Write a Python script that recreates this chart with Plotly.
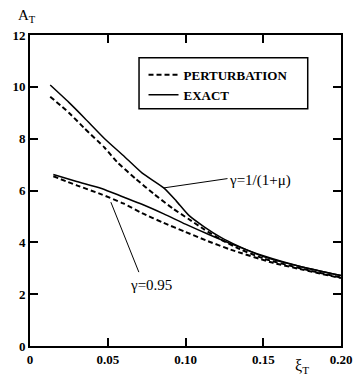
import plotly.graph_objects as go

# Data
xi_up_exact = [0.013, 0.025, 0.035, 0.048, 0.060, 0.072, 0.086, 0.094, 0.102, 0.112, 0.123, 0.133, 0.150, 0.175, 0.200]
A_up_exact = [10.07, 9.40, 8.80, 8.00, 7.35, 6.68, 6.10, 5.60, 5.05, 4.60, 4.18, 3.88, 3.45, 3.05, 2.72]

xi_up_pert = [0.013, 0.025, 0.035, 0.048, 0.056, 0.068, 0.080, 0.092, 0.102, 0.112, 0.123, 0.135, 0.150, 0.175, 0.200]
A_up_pert = [9.62, 9.00, 8.40, 7.65, 7.10, 6.45, 5.85, 5.30, 4.90, 4.50, 4.10, 3.74, 3.38, 2.98, 2.64]

xi_lo_exact = [0.015, 0.030, 0.046, 0.060, 0.072, 0.086, 0.100, 0.115, 0.129, 0.150, 0.175, 0.200]
A_lo_exact = [6.62, 6.35, 6.08, 5.75, 5.47, 5.10, 4.70, 4.30, 3.95, 3.48, 3.05, 2.72]

xi_lo_pert = [0.015, 0.030, 0.046, 0.060, 0.072, 0.086, 0.100, 0.113, 0.129, 0.155, 0.175, 0.200]
A_lo_pert = [6.55, 6.20, 5.85, 5.50, 5.13, 4.75, 4.40, 4.08, 3.72, 3.23, 2.95, 2.62]

x_tickvals = [0, 0.05, 0.10, 0.15, 0.20]
x_ticktext = ["0", "0.05", "0.10", "0.15", "0.20"]
y_tickvals = [0, 2, 4, 6, 8, 10, 12]

FONT = "Liberation Serif"

fig = go.Figure()
dash = "5px,3px"
fig.add_trace(go.Scatter(x=xi_up_pert, y=A_up_pert, mode="lines", name="PERTURBATION",
                         line=dict(color="black", width=2, dash=dash, shape="spline", smoothing=0.6)))
fig.add_trace(go.Scatter(x=xi_up_exact, y=A_up_exact, mode="lines", name="EXACT",
                         line=dict(color="black", width=1.5, shape="spline", smoothing=0.6)))
fig.add_trace(go.Scatter(x=xi_lo_pert, y=A_lo_pert, mode="lines", showlegend=False,
                         line=dict(color="black", width=2, dash=dash, shape="spline", smoothing=0.6)))
fig.add_trace(go.Scatter(x=xi_lo_exact, y=A_lo_exact, mode="lines", showlegend=False,
                         line=dict(color="black", width=1.5, shape="spline", smoothing=0.6)))

# leader lines
fig.add_shape(type="line", x0=0.086, y0=6.1, x1=0.127, y1=6.46, line=dict(color="black", width=1))
fig.add_shape(type="line", x0=0.052, y0=5.55, x1=0.070, y1=2.85, line=dict(color="black", width=1))
# legend box
fig.add_shape(type="rect", xref="paper", yref="paper", x0=0.3506, x1=0.893, y0=0.763, y1=0.927,
              line=dict(color="black", width=1.5))

fig.add_annotation(x=0.1265, y=6.4, text="γ=1/(1+μ)", showarrow=False, xanchor="left",
                   font=dict(family=FONT, size=15, color="black"))
fig.add_annotation(x=0.0775, y=2.36, text="γ=0.95", showarrow=False,
                   font=dict(family=FONT, size=15, color="black"))
fig.add_annotation(xref="paper", yref="paper", x=-0.045, y=1.025, xanchor="left", yanchor="bottom",
                   text="A<sub>T</sub>", showarrow=False, font=dict(family=FONT, size=15, color="black"))
fig.add_annotation(xref="paper", yref="paper", x=0.845, y=-0.03, xanchor="left", yanchor="top",
                   text="ξ<sub>T</sub>", showarrow=False, font=dict(family=FONT, size=16, color="black"))

tf = dict(family=FONT, size=13, color="black", weight="bold")
axis_common = dict(showgrid=False, zeroline=False, showline=True, linecolor="black", linewidth=2,
                   mirror="ticks", ticks="inside", ticklen=8, tickwidth=2, tickcolor="black",
                   tickfont=tf)
fig.update_xaxes(range=[0, 0.2], tickvals=x_tickvals, ticktext=x_ticktext, **axis_common)
fig.update_yaxes(range=[0, 12], tickvals=y_tickvals, **axis_common)

fig.update_layout(
    width=364, height=379,
    margin=dict(l=22, r=14, t=35, b=27),
    plot_bgcolor="white", paper_bgcolor="white",
    legend=dict(x=0.365, y=0.92, xanchor="left", yanchor="top", bgcolor="rgba(0,0,0,0)",
                font=dict(family=FONT, size=13, color="black", weight="bold"), tracegroupgap=0),
    font=dict(family=FONT, color="black"),
)
fig.write_html("out.html")
